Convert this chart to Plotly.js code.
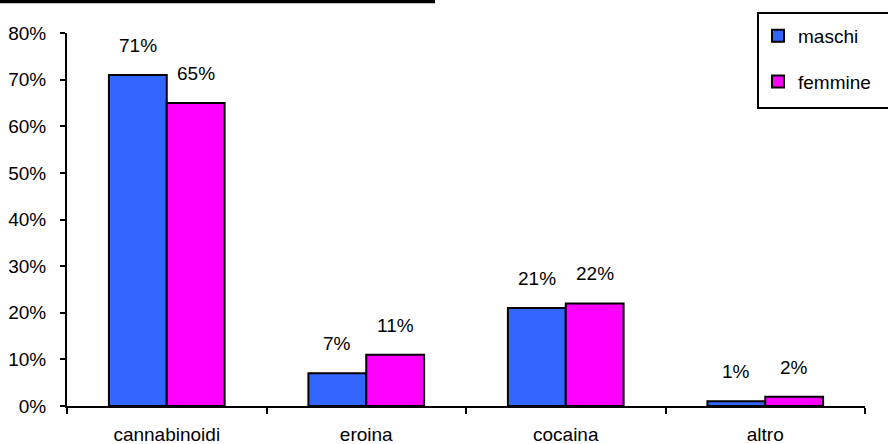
<!DOCTYPE html>
<html>
<head>
<meta charset="utf-8">
<script src="https://cdn.plot.ly/plotly-3.0.1.min.js"></script>
<style>html,body{margin:0;padding:0;background:#fff;}#chart{width:888px;height:444px;}</style>
</head>
<body>
<div id="chart"></div>
<script>
const categories = ["cannabinoidi", "eroina", "cocaina", "altro"];
const maschi = [0.71, 0.07, 0.21, 0.01];
const femmine = [0.65, 0.11, 0.22, 0.02];
const seriesNames = ["maschi", "femmine"];
const yTicks = [0, 0.1, 0.2, 0.3, 0.4, 0.5, 0.6, 0.7, 0.8];
const yTickLabels = ["0%", "10%", "20%", "30%", "40%", "50%", "60%", "70%", "80%"];

const FONT = "Liberation Sans, Arial, sans-serif";
const BLUE = "#3366FF", PINK = "#FF00FF";
const bargap = 0.42;
const half = (1 - bargap) / 4;

const traces = [
  {type: "bar", name: seriesNames[0], x: categories, y: maschi, legendgroup: "a",
   marker: {color: BLUE, line: {color: "#000", width: 2}}, hoverinfo: "none"},
  {type: "bar", name: seriesNames[1], x: categories, y: femmine, legendgroup: "b",
   marker: {color: PINK, line: {color: "#000", width: 2}}, hoverinfo: "none"}
];

const annotations = [];
[maschi, femmine].forEach((arr, s) => {
  arr.forEach((v, i) => {
    annotations.push({
      x: i + (s === 0 ? -half : half), y: v, xref: "x", yref: "y",
      text: Math.round(v * 100) + "%", showarrow: false,
      xanchor: "center", yanchor: "bottom", yshift: 17,
      font: {family: FONT, size: 19, color: "#000"}
    });
  });
});

const L = 67, R = 865, T = 33, B = 406;
const px = v => (v - L) / (R - L);
const py = v => (B - v) / (B - T);

const layout = {
  width: 888, height: 444,
  margin: {l: L, r: 888 - R, t: T, b: 444 - B, pad: 0},
  paper_bgcolor: "#fff", plot_bgcolor: "#fff",
  font: {family: FONT, size: 19, color: "#000"},
  barmode: "group", bargap: bargap, bargroupgap: 0,
  showlegend: true,
  legend: {x: px(758), y: py(17), xanchor: "left", yanchor: "top",
    bgcolor: "rgba(0,0,0,0)", borderwidth: 0, tracegroupgap: 18,
    font: {family: FONT, size: 19, color: "#000"}, traceorder: "grouped"},
  xaxis: {type: "category", showline: true, linecolor: "#000", linewidth: 2,
    ticks: "outside", tickson: "boundaries", ticklen: 6, tickwidth: 2, tickcolor: "#000",
    showgrid: false, zeroline: false, ticklabelstandoff: 10,
    tickfont: {family: FONT, size: 19, color: "#000"}},
  yaxis: {range: [0, 0.8], tickvals: yTicks, ticktext: yTickLabels,
    showline: true, linecolor: "#000", linewidth: 2,
    ticks: "outside", ticklen: 5, tickwidth: 2, tickcolor: "#000",
    showgrid: false, zeroline: false, ticklabelstandoff: 10,
    tickfont: {family: FONT, size: 19, color: "#000"}},
  annotations: annotations,
  shapes: [
    {type: "line", xref: "paper", yref: "paper", x0: px(0), x1: px(435), y0: py(1.5), y1: py(1.5),
     line: {color: "#000", width: 3.5}},
    {type: "rect", xref: "paper", yref: "paper", x0: px(758), x1: px(895), y0: py(108), y1: py(13),
     line: {color: "#000", width: 2}, fillcolor: "rgba(0,0,0,0)"}
  ]
};

Plotly.newPlot("chart", traces, layout, {displayModeBar: false, staticPlot: true});
</script>
</body>
</html>
